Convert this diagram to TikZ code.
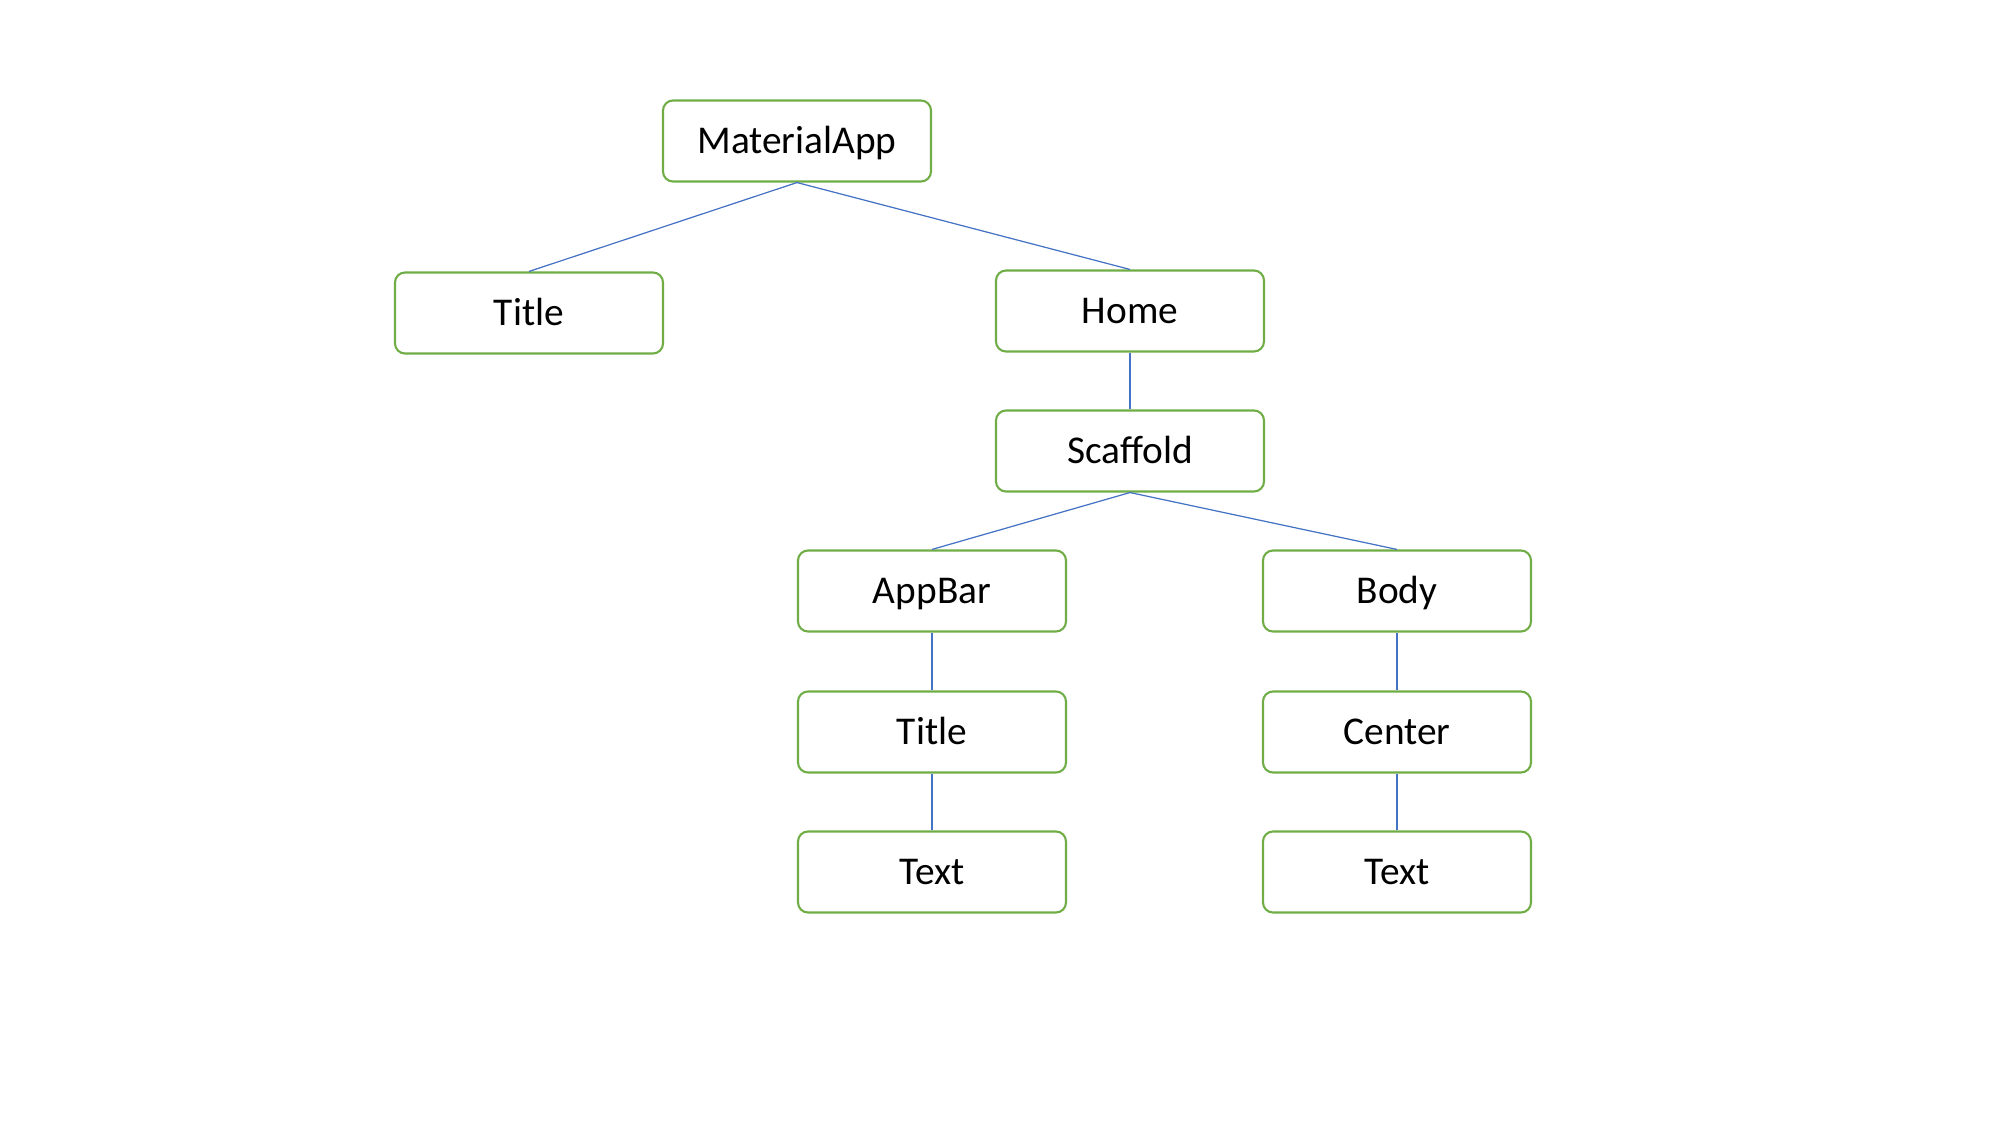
\documentclass[tikz,border=0pt]{standalone}
\usepackage{fontspec}
\setmainfont{Carlito}
\definecolor{boxgreen}{HTML}{70AD47}
\definecolor{edgeblue}{HTML}{4472C4}
\tikzset{
    widget/.style={draw=boxgreen, line width=0.6pt, rounded corners=1mm,
        minimum width=26.8mm, minimum height=8.1mm, inner sep=0pt,
        text height=2.5mm, text depth=0pt,
        font=\fontsize{11.2}{13}\selectfont},
    link/.style={draw=edgeblue, line width=0.35pt},
}
\begin{document}
\begin{tikzpicture}[x=0.1mm, y=-0.1mm]
    \useasboundingbox (0,0) rectangle (2000,1125);
    % tree
    \node[widget] (App) at (797,141) {MaterialApp};
    \node[widget] (AppTitle) at (529,313) {Title};
    \node[widget] (Home) at (1130,311) {Home};
    \node[widget] (Scaffold) at (1130,451) {Scaffold};
    \node[widget] (AppBar) at (932,591) {AppBar};
    \node[widget] (Body) at (1397,591) {Body};
    \node[widget] (BarTitle) at (932,732) {Title};
    \node[widget] (Center) at (1397,732) {Center};
    \node[widget] (BarText) at (932,872) {Text};
    \node[widget] (BodyText) at (1397,872) {Text};
    % edges
    \foreach \a/\b in {App/AppTitle, App/Home, Home/Scaffold, Scaffold/AppBar,
        Scaffold/Body, AppBar/BarTitle, BarTitle/BarText, Body/Center, Center/BodyText}
        \draw[link] (\a.south) -- (\b.north);
\end{tikzpicture}
\end{document}
